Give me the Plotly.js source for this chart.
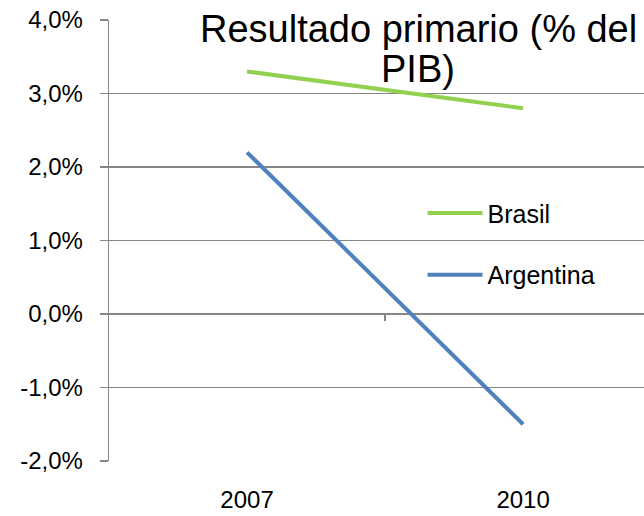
<!DOCTYPE html>
<html>
<head>
<meta charset="utf-8">
<script src="https://cdn.plot.ly/plotly-3.0.1.min.js"></script>
<style>html,body{margin:0;padding:0;background:#fff;}#chart{width:644px;height:516px;}</style>
</head>
<body>
<div id="chart"></div>
<script>
var years = ['2007', '2010'];
var brasil = [3.3, 2.8];
var argentina = [2.2, -1.5];
var yTicks = [-2, -1, 0, 1, 2, 3, 4];
var yTickLabels = ['-2,0%', '-1,0%', '0,0%', '1,0%', '2,0%', '3,0%', '4,0%'];
var titleLine1 = 'Resultado primario (% del';
var titleLine2 = 'PIB)';

var FONT = 'Liberation Sans, Arial, sans-serif';
var GRID = '#868686';

var traces = [
  {x: years, y: brasil, name: 'Brasil', type: 'scatter', mode: 'lines',
   line: {color: '#92D050', width: 4}, legend: 'legend'},
  {x: years, y: argentina, name: 'Argentina', type: 'scatter', mode: 'lines',
   line: {color: '#4F81BD', width: 4}, legend: 'legend2'},
  {x: [0.5], y: [0], xaxis: 'x2', yaxis: 'y', type: 'scatter', mode: 'markers',
   marker: {opacity: 0}, showlegend: false, hoverinfo: 'skip'}
];

var layout = {
  width: 644, height: 516,
  margin: {l: 109, r: 0, t: 20, b: 55},
  paper_bgcolor: '#fff', plot_bgcolor: '#fff',
  font: {family: FONT, size: 24, color: '#000'},
  showlegend: true,
  title: {text: titleLine1, font: {family: FONT, size: 38, color: '#000'},
          x: 0.65, xanchor: 'center', xref: 'container',
          y: 1 - 29 / 516, yanchor: 'middle', yref: 'container'},
  annotations: [
    {text: titleLine2, xref: 'paper', yref: 'paper', x: 0.578, y: 0.888,
     xanchor: 'center', yanchor: 'middle', showarrow: false,
     font: {family: FONT, size: 38, color: '#000'}}
  ],
  xaxis: {type: 'category', range: [-0.5, 1.438], showgrid: false, zeroline: false,
          showline: false, ticks: '', tickfont: {size: 24}, ticklabelstandoff: 22,
          fixedrange: true},
  xaxis2: {overlaying: 'x', anchor: 'free', position: 1/3, range: [-0.5, 1.438],
           showgrid: false, zeroline: false, showline: false, showticklabels: false,
           tickmode: 'array', tickvals: [0.5], ticks: 'outside', ticklen: 6,
           tickcolor: GRID, tickwidth: 1.3},
  yaxis: {range: [-2, 4], tickmode: 'array', tickvals: yTicks, ticktext: yTickLabels,
          showgrid: true, gridcolor: GRID, gridwidth: 1.3,
          zeroline: true, zerolinecolor: GRID, zerolinewidth: 1.3,
          showline: true, linecolor: GRID, linewidth: 1.3,
          ticks: 'outside', ticklen: 8, tickcolor: GRID, tickwidth: 1.3,
          ticklabelstandoff: 12, tickfont: {size: 24}},
  legend: {x: 0.586, y: 0.562, xanchor: 'left', yanchor: 'middle', itemwidth: 55,
           font: {size: 25}, bgcolor: 'rgba(0,0,0,0)'},
  legend2: {x: 0.586, y: 0.422, xanchor: 'left', yanchor: 'middle', itemwidth: 55,
            font: {size: 25}, bgcolor: 'rgba(0,0,0,0)'}
};

Plotly.newPlot('chart', traces, layout, {displayModeBar: false, staticPlot: true});
</script>
</body>
</html>
